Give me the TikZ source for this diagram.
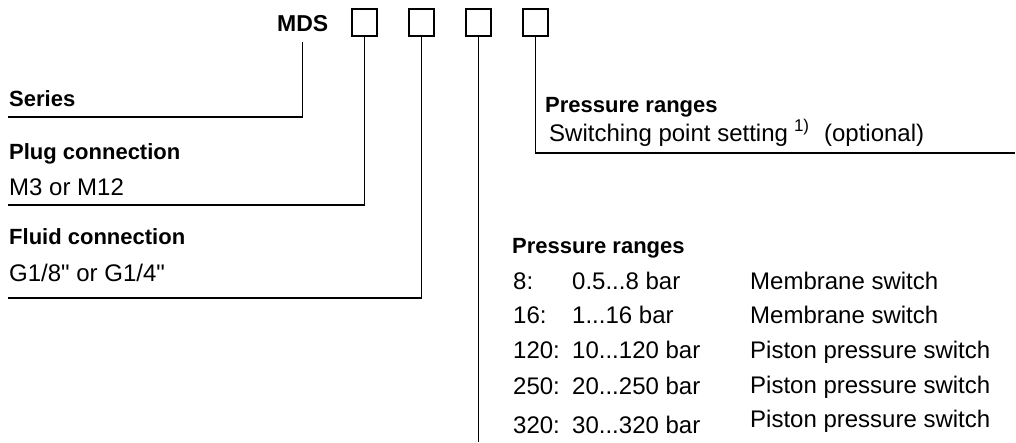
\documentclass[tikz,border=0pt]{standalone}
\usepackage{fontspec}
\setmainfont{Liberation Sans}[Ligatures=TeXOff]
\usetikzlibrary{positioning}

\tikzset{
    slot/.style={draw, rectangle, line width=1.3pt, minimum width=25pt, minimum height=27pt, inner sep=0pt},
    head/.style={anchor=base west, inner sep=0pt, font=\fontsize{22}{26}\selectfont\bfseries},
    txt/.style={anchor=base west, inner sep=0pt, font=\fontsize{24}{28}\selectfont},
    lead/.style={line width=1.4pt}
}

\begin{document}
\begin{tikzpicture}[
                            x=1pt, y=-1pt,
                            node distance=57pt,
                            >=latex
                            ]
    \useasboundingbox (0,0) rectangle (1016,443);

    % type code
    \node [anchor=base west, inner sep=0pt, font=\fontsize{23}{26}\selectfont\bfseries] (mds) at (277,32) {MDS};
    \node [slot] (b1) at (364.5,22.5) {};
    \node [slot, right of = b1] (b2) {};
    \node [slot, right of = b2] (b3) {};
    \node [slot, right of = b3] (b4) {};

    % left side
    \node [head] (series) at (9,107) {Series};
    \node [head] (plug) at (9,160) {Plug connection};
    \node [txt] (plugval) at (9,196) {M3 or M12};
    \node [head] (fluid) at (9,245) {Fluid connection};
    \node [txt] (fluidval) at (9,282) {G1/8" or G1/4"};

    \coordinate (seriesend) at (8,117);
    \coordinate (plugend) at (8,205);
    \coordinate (fluidend) at (8,298);

    % right side
    \node [head] (swhead) at (545,113) {Pressure ranges};
    \node [txt] (swval) at (549,142) {Switching point setting\hspace{6pt}\raisebox{10pt}{\fontsize{17}{17}\selectfont 1)}\hspace{15pt}(optional)};
    \coordinate (swend) at (1015,153);

    \node [head] (prhead) at (512,254) {Pressure ranges};
    \node [txt] (k1) at (513,290) {8:};
    \node [txt] (k2) at (513,323) {16:};
    \node [txt] (k3) at (513,358) {120:};
    \node [txt] (k4) at (513,394) {250:};
    \node [txt] (k5) at (513,433) {320:};
    \node [txt] (r1) at (572,290) {0.5...8 bar};
    \node [txt] (r2) at (572,323) {1...16 bar};
    \node [txt] (r3) at (572,358) {10...120 bar};
    \node [txt] (r4) at (572,394) {20...250 bar};
    \node [txt] (r5) at (572,433) {30...320 bar};
    \node [txt] (t1) at (750,290) {Membrane switch};
    \node [txt] (t2) at (750,323) {Membrane switch};
    \node [txt] (t3) at (750,358) {Piston pressure switch};
    \node [txt] (t4) at (750,393) {Piston pressure switch};
    \node [txt] (t5) at (750,427) {Piston pressure switch};
    \coordinate (prend) at (478,442);

    % leader lines
    \draw[lead] ([yshift=-10pt]mds.base) |- (seriesend);
    \draw[lead] (b1.south) |- (plugend);
    \draw[lead] (b2.south) |- (fluidend);
    \draw[lead] (b3.south) -- (b3.south |- prend);
    \draw[lead] (b4.south) |- (swend);
\end{tikzpicture}
\end{document}
